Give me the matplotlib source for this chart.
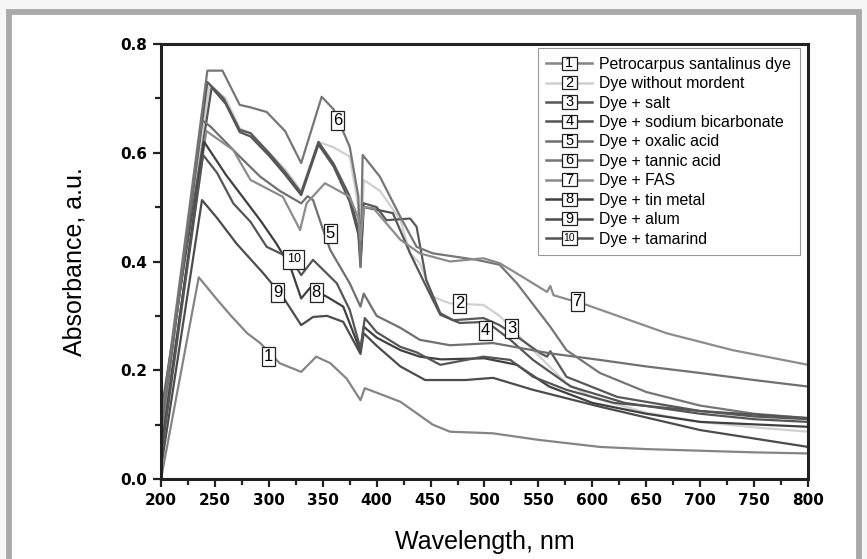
import matplotlib
matplotlib.use("Agg")
import matplotlib.pyplot as plt
from matplotlib.legend_handler import HandlerBase
from matplotlib.lines import Line2D
from matplotlib.patches import Rectangle
import matplotlib.patches as mpatches

# ---------------- data ----------------
names = ["Petrocarpus santalinus dye", "Dye without mordent", "Dye + salt",
         "Dye + sodium bicarbonate", "Dye + oxalic acid", "Dye + tannic acid",
         "Dye + FAS", "Dye + tin metal", "Dye + alum", "Dye + tamarind"]

wl_1 = [200, 235, 252, 265, 280, 292, 310, 330, 344, 357, 372, 385, 389, 405, 422, 437, 452, 468, 508, 550, 607, 650, 700, 750, 800]
ab_1 = [0.0, 0.371, 0.33, 0.30, 0.268, 0.25, 0.213, 0.197, 0.225, 0.213, 0.185, 0.145, 0.167, 0.155, 0.142, 0.121, 0.10, 0.087, 0.084, 0.072, 0.059, 0.055, 0.052, 0.049, 0.047]

wl_2 = [200, 245, 260, 273, 283, 300, 315, 330, 346, 360, 375, 383, 385, 388, 403, 422, 431, 440, 452, 468, 499, 514, 545, 576, 600, 650, 700, 750, 800]
ab_2 = [0.10, 0.725, 0.70, 0.645, 0.636, 0.60, 0.57, 0.53, 0.62, 0.61, 0.593, 0.50, 0.40, 0.55, 0.53, 0.476, 0.415, 0.397, 0.335, 0.323, 0.32, 0.30, 0.237, 0.176, 0.15, 0.122, 0.105, 0.095, 0.087]

wl_3 = [200, 243, 258, 273, 283, 300, 315, 330, 346, 360, 375, 383, 385, 388, 400, 409, 431, 437, 446, 459, 471, 499, 514, 530, 552, 558, 561, 576, 623, 700, 750, 800]
ab_3 = [0.08, 0.73, 0.70, 0.642, 0.636, 0.60, 0.565, 0.526, 0.62, 0.58, 0.52, 0.46, 0.40, 0.507, 0.50, 0.476, 0.479, 0.464, 0.366, 0.305, 0.292, 0.296, 0.283, 0.262, 0.231, 0.225, 0.235, 0.188, 0.151, 0.125, 0.115, 0.11]

wl_4 = [200, 247, 260, 273, 283, 300, 315, 330, 346, 360, 375, 383, 385, 388, 403, 415, 431, 443, 459, 477, 502, 524, 545, 580, 630, 700, 750, 800]
ab_4 = [0.12, 0.72, 0.69, 0.638, 0.63, 0.595, 0.56, 0.522, 0.615, 0.575, 0.51, 0.45, 0.39, 0.50, 0.494, 0.489, 0.415, 0.366, 0.302, 0.287, 0.289, 0.256, 0.219, 0.17, 0.14, 0.12, 0.11, 0.105]

wl_5 = [200, 238, 246, 273, 292, 310, 330, 336, 341, 350, 357, 375, 385, 388, 400, 422, 440, 468, 508, 561, 607, 650, 700, 750, 800]
ab_5 = [0.08, 0.66, 0.648, 0.593, 0.556, 0.53, 0.507, 0.52, 0.513, 0.46, 0.421, 0.36, 0.317, 0.341, 0.30, 0.278, 0.256, 0.246, 0.25, 0.231, 0.219, 0.207, 0.195, 0.182, 0.17]

wl_6 = [200, 243, 257, 273, 282, 298, 315, 330, 349, 360, 375, 383, 385, 387, 403, 422, 437, 452, 493, 514, 530, 561, 576, 607, 650, 700, 750, 800]
ab_6 = [0.10, 0.751, 0.751, 0.688, 0.684, 0.675, 0.64, 0.581, 0.703, 0.68, 0.611, 0.52, 0.39, 0.596, 0.556, 0.482, 0.427, 0.415, 0.403, 0.394, 0.36, 0.28, 0.237, 0.195, 0.16, 0.135, 0.12, 0.112]

wl_7 = [200, 242, 267, 283, 313, 329, 335, 352, 375, 383, 385, 388, 397, 422, 440, 468, 499, 514, 530, 558, 561, 564, 595, 669, 730, 800]
ab_7 = [0.06, 0.64, 0.605, 0.55, 0.519, 0.458, 0.507, 0.544, 0.519, 0.48, 0.44, 0.50, 0.498, 0.44, 0.415, 0.40, 0.406, 0.397, 0.378, 0.344, 0.355, 0.338, 0.32, 0.268, 0.237, 0.21]

wl_8 = [200, 240, 260, 292, 307, 320, 330, 338, 354, 369, 385, 388, 400, 422, 440, 460, 500, 530, 560, 600, 650, 700, 800]
ab_8 = [0.05, 0.62, 0.56, 0.476, 0.433, 0.39, 0.332, 0.351, 0.335, 0.317, 0.235, 0.28, 0.26, 0.237, 0.225, 0.22, 0.222, 0.21, 0.17, 0.14, 0.12, 0.105, 0.096]

wl_9 = [200, 238, 252, 270, 295, 313, 330, 341, 354, 369, 385, 388, 400, 422, 445, 482, 508, 545, 607, 700, 800]
ab_9 = [0.02, 0.513, 0.48, 0.433, 0.378, 0.335, 0.283, 0.298, 0.30, 0.289, 0.23, 0.268, 0.245, 0.207, 0.182, 0.182, 0.186, 0.164, 0.133, 0.09, 0.059]

wl_10 = [200, 239, 252, 267, 283, 298, 320, 330, 341, 363, 375, 385, 389, 400, 422, 437, 459, 499, 524, 545, 576, 620, 700, 800]
ab_10 = [0.04, 0.596, 0.563, 0.507, 0.473, 0.427, 0.406, 0.375, 0.403, 0.36, 0.311, 0.24, 0.296, 0.27, 0.243, 0.233, 0.21, 0.225, 0.219, 0.188, 0.164, 0.14, 0.125, 0.112]

series_wl = [wl_1, wl_2, wl_3, wl_4, wl_5, wl_6, wl_7, wl_8, wl_9, wl_10]
series_ab = [ab_1, ab_2, ab_3, ab_4, ab_5, ab_6, ab_7, ab_8, ab_9, ab_10]
colors = ["#858585", "#d0d0d0", "#585858", "#555555", "#707070", "#767676",
          "#8c8c8c", "#404040", "#4c4c4c", "#555555"]

# in-plot label positions (wavelength, absorbance)
lab_ids = ["1", "2", "3", "4", "5", "6", "7", "8", "9", "10"]
lab_x = [300, 477, 525, 501, 357, 364, 586, 344, 308, 323]
lab_y = [0.226, 0.323, 0.276, 0.273, 0.452, 0.659, 0.326, 0.343, 0.343, 0.404]

x_ticks = list(range(200, 801, 50))
y_ticks = [0.0, 0.2, 0.4, 0.6, 0.8]

# ---------------- figure ----------------
W, H = 867, 559
fig = plt.figure(figsize=(W / 100, H / 100), dpi=100)
fig.patch.set_facecolor("#f7f7f7")
fig.patches.append(mpatches.Rectangle((8.5 / W, -0.05), (W - 17) / W, 1.05 - 12 / H,
                                      transform=fig.transFigure, facecolor="white",
                                      edgecolor="#a9a9a9", linewidth=4.2, zorder=-10))

ax = fig.add_axes([161 / W, 1 - 479 / H, (808 - 161) / W, (479 - 44) / H])

for wl, ab, c in zip(series_wl, series_ab, colors):
    ax.plot(wl, ab, color=c, lw=1.6, solid_joinstyle="round")

for t, x, y in zip(lab_ids, lab_x, lab_y):
    ax.text(x, y, t, ha="center", va="center", fontsize=12 if t != "10" else 9,
            family="Liberation Sans",
            bbox=dict(boxstyle="square,pad=0.12" if t != "10" else "square,pad=0.3",
                      fc="white", ec="#222222", lw=0.9))

ax.set_xlim(200, 800)
ax.set_ylim(0.0, 0.8)
ax.set_xticks(x_ticks)
ax.set_xticks(list(range(225, 800, 50)), minor=True)
ax.set_yticks(y_ticks)
ax.set_yticks([0.1, 0.3, 0.5, 0.7], minor=True)
ax.set_xticklabels([str(v) for v in x_ticks])
ax.set_yticklabels(["%.1f" % v for v in y_ticks])
for lab in ax.get_xticklabels() + ax.get_yticklabels():
    lab.set_fontweight("bold")
    lab.set_family("DejaVu Sans")
    lab.set_fontsize(11)
ax.tick_params(axis="both", which="major", direction="out", length=6, width=1.6, color="#222222", pad=4)
ax.tick_params(axis="both", which="minor", direction="out", length=4, width=1.6, color="#222222")
for s in ax.spines.values():
    s.set_linewidth(2.2)
    s.set_color("#222222")

ax.set_xlabel("Wavelength, nm", fontsize=18, family="Liberation Sans", labelpad=16)
ax.set_ylabel("Absorbance, a.u.", fontsize=18, family="Liberation Sans", labelpad=24)


class BoxNumHandler(HandlerBase):
    def __init__(self, num, color):
        super().__init__()
        self.num = num
        self.color = color

    def create_artists(self, legend, orig_handle, xdescent, ydescent, width, height, fontsize, trans):
        y = height / 2 - ydescent
        ln = Line2D([-xdescent, width - xdescent], [y, y], color=self.color, lw=1.8, transform=trans)
        bw = 10.5
        bh = 9.5
        cx = width / 2 - xdescent
        rect = Rectangle((cx - bw / 2, y - bh / 2), bw, bh, facecolor="white",
                         edgecolor="#222222", lw=0.9, transform=trans)
        txt = plt.Text(cx, y, self.num, ha="center", va="center",
                       fontsize=10.5 if self.num != "10" else 7.5,
                       family="Liberation Sans", transform=trans)
        return [ln, rect, txt]


handles = [Line2D([], [], color=c) for c in colors]
hmap = {h: BoxNumHandler(n, c) for h, n, c in zip(handles, lab_ids, colors)}
leg = ax.legend(handles, names, handler_map=hmap, loc="upper right",
                bbox_to_anchor=(800 / W, 1 - 48 / H), bbox_transform=fig.transFigure,
                frameon=True, fancybox=False, edgecolor="#999999", framealpha=1,
                prop={"family": "Liberation Sans", "size": 11.4}, handlelength=2.9,
                handletextpad=0.45, labelspacing=0.28, borderpad=0.55, borderaxespad=0)
leg.get_frame().set_linewidth(0.8)

fig.savefig("out.png", dpi=100, facecolor=fig.get_facecolor())
